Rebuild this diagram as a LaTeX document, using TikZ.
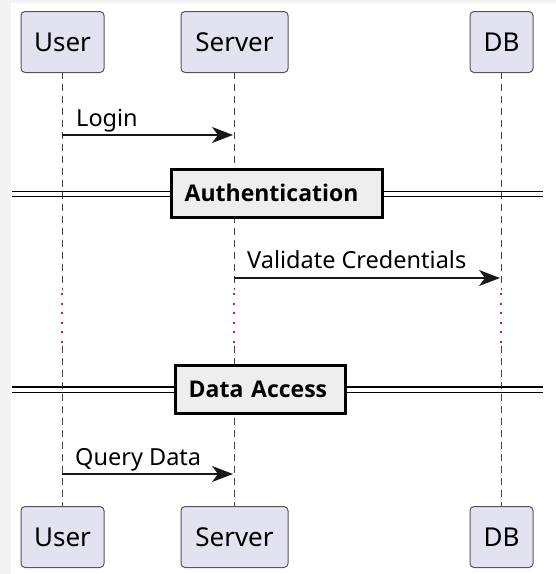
\documentclass[tikz,border=0pt]{standalone}
\usepackage{fontspec}
\setmainfont{Noto Sans}
\newfontfamily\boldf{Open Sans}
\usetikzlibrary{arrows.meta}
\definecolor{partfill}{HTML}{E2E2F0}
\definecolor{partdraw}{HTML}{555555}
\definecolor{lifeclr}{HTML}{444444}
\definecolor{delayclr}{HTML}{C8175E}
\definecolor{divfill}{HTML}{EEEEEE}
\definecolor{stripclr}{HTML}{F3F3F3}
\definecolor{msgclr}{HTML}{181818}
\tikzset{
  part/.style={draw=partdraw, fill=partfill, line width=1pt, rounded corners=4pt,
    minimum height=61pt, inner sep=0pt, font=\fontsize{26}{30}\selectfont, text=black},
  lifeline/.style={draw=lifeclr, line width=1pt, dash pattern=on 7pt off 5pt},
  delayline/.style={draw=delayclr, line width=2pt, dash pattern=on 2pt off 7.5pt},
  msg/.style={draw=msgclr, line width=1.6pt,
    -{Stealth[length=21pt, width=16pt, inset=6pt]}},
  msglabel/.style={anchor=base west, inner sep=0pt, font=\fontsize{23.5}{27}\selectfont},
  divbox/.style={draw=black, fill=divfill, line width=3pt, minimum height=48pt,
    inner xsep=13pt, inner ysep=0pt, align=left,
    font=\boldf\bfseries\fontsize{23}{27}\selectfont},
  divline/.style={draw=black, line width=1.8pt},
}
\begin{document}
\begin{tikzpicture}[x=1pt, y=-1pt]
\useasboundingbox (0,0) rectangle (556,574);
\fill[stripclr] (0,0) rectangle (11,574);
\fill[stripclr] (0,0) rectangle (556,2.5);
% lifeline coordinates
\coordinate (uT) at (62,72);  \coordinate (uB) at (62,506);
\coordinate (sT) at (234,72); \coordinate (sB) at (234,506);
\coordinate (dT) at (501,72); \coordinate (dB) at (501,506);
\coordinate (u1) at (62,290);  \coordinate (u2) at (62,346);
\coordinate (s1) at (234,290); \coordinate (s2) at (234,346);
\coordinate (d1) at (501,290); \coordinate (d2) at (501,346);
\draw[lifeline] (uT) -- (u1); \draw[lifeline] (u2) -- (uB);
\draw[lifeline] (sT) -- (s1); \draw[lifeline] (s2) -- (sB);
\draw[lifeline] (dT) -- (d1); \draw[lifeline] (d2) -- (dB);
\coordinate (u3) at (62,293);  \coordinate (u4) at (62,343);
\coordinate (s3) at (234,293); \coordinate (s4) at (234,343);
\coordinate (d3) at (501,293); \coordinate (d4) at (501,343);
\draw[delayline] (u3) -- (u4);
\draw[delayline] (s3) -- (s4);
\draw[delayline] (d3) -- (d4);
% participants
\node[part, minimum width=83pt] (userT) at (62.5,42) {User};
\node[part, minimum width=107pt] (serverT) at (234.5,42) {Server};
\node[part, minimum width=63pt] (dbT) at (501.5,42) {DB};
\node[part, minimum width=83pt] (userB) at (62.5,537) {User};
\node[part, minimum width=107pt] (serverB) at (234.5,537) {Server};
\node[part, minimum width=63pt] (dbB) at (501.5,537) {DB};
% messages
\coordinate (m1a) at (62,135);  \coordinate (m1b) at (233,135);
\draw[msg] (m1a) -- (m1b);
\node[msglabel] (l1) at (76,126) {Login};
\coordinate (m2a) at (234,278); \coordinate (m2b) at (500,278);
\draw[msg] (m2a) -- (m2b);
\node[msglabel] (l2) at (247,268) {Validate Credentials};
\coordinate (m3a) at (62,474);  \coordinate (m3b) at (233,474);
\draw[msg] (m3a) -- (m3b);
\node[msglabel] (l3) at (75,465) {Query Data};
% dividers
\coordinate (a1) at (12,191.5); \coordinate (a2) at (543,191.5);
\coordinate (a3) at (12,196.5); \coordinate (a4) at (543,196.5);
\draw[divline] (a1) -- (a2); \draw[divline] (a3) -- (a4);
\node[divbox, text width=185pt] (auth) at (277.2,193) {Authentication};
\coordinate (b1) at (12,387); \coordinate (b2) at (543,387);
\coordinate (b3) at (12,392.5); \coordinate (b4) at (543,392.5);
\draw[divline] (b1) -- (b2); \draw[divline] (b3) -- (b4);
\node[divbox, text width=144pt] (data) at (260.7,389) {Data Access};
\end{tikzpicture}
\end{document}
